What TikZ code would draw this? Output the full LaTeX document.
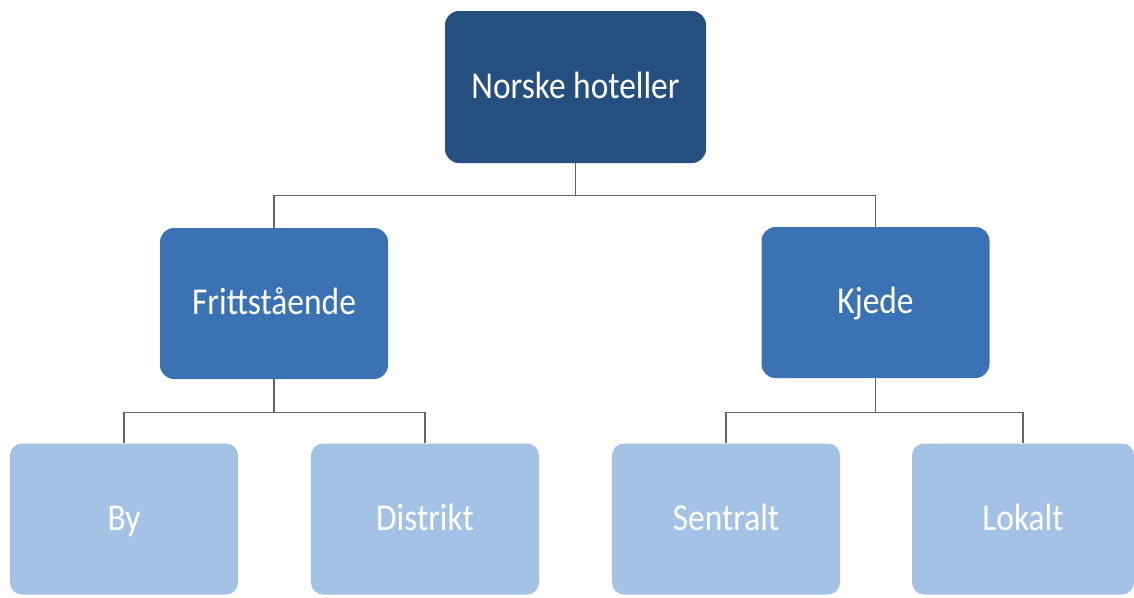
\documentclass[tikz,border=0pt]{standalone}
\usepackage{fontspec}
\setmainfont{Carlito}[FakeStretch=0.88]
\definecolor{topblue}{RGB}{37,79,126}
\definecolor{midblue}{RGB}{59,114,180}
\definecolor{lightblue}{RGB}{163,194,229}
\definecolor{linkgray}{RGB}{100,100,100}
\tikzset{
  box/.style={rounded corners=14pt, minimum width=228pt, minimum height=151pt,
    inner sep=0pt, text height=26pt, text depth=4pt, text=white,
    font=\fontsize{38}{44}\selectfont},
  rootbox/.style={box, fill=topblue, minimum width=261pt, minimum height=152pt},
  groupbox/.style={box, fill=midblue},
  leafbox/.style={box, fill=lightblue, rounded corners=12pt},
  link/.style={draw=linkgray, line width=1.3pt}
}
\begin{document}
\begin{tikzpicture}[x=1pt,y=-1pt]
  \useasboundingbox (0,0) rectangle (1134,597);
  \fill[white] (0,0) rectangle (1134,597);

  \node[rootbox]  (root)  at (575.5,87)  {Norske hoteller};
  \node[groupbox] (fritt) at (274,303.5) {Frittstående};
  \node[groupbox] (kjede) at (875.5,302.5) {Kjede};
  \node[leafbox]  (by)    at (124,519)   {By};
  \node[leafbox]  (dist)  at (425,519)   {Distrikt};
  \node[leafbox]  (sent)  at (726,519)   {Sentralt};
  \node[leafbox, minimum width=222pt] (lok) at (1023,519) {Lokalt};

  % bus-style connectors
  \draw[link] (root.south) -- ++(0,32) coordinate (rbus) -| (fritt.north);
  \draw[link] (rbus) -| (kjede.north);
  \draw[link] (fritt.south) -- ++(0,33) coordinate (fbus) -| (by.north);
  \draw[link] (fbus) -| (dist.north);
  \draw[link] (kjede.south) -- ++(0,34) coordinate (kbus) -| (sent.north);
  \draw[link] (kbus) -| (lok.north);
\end{tikzpicture}
\end{document}
